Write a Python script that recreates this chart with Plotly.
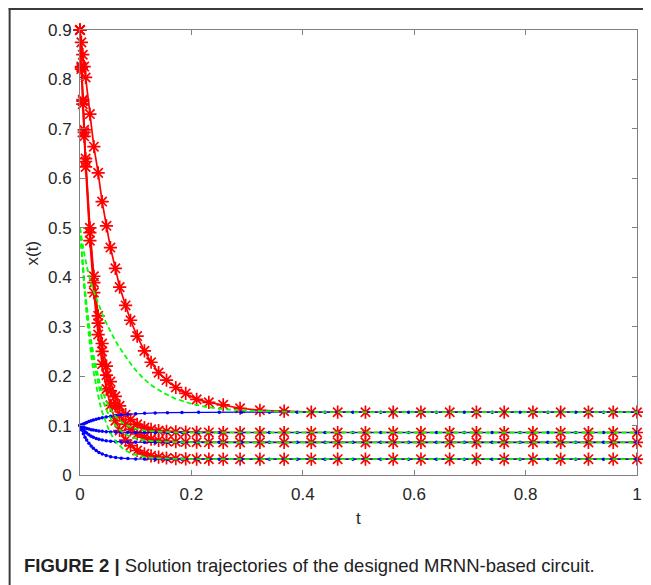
import plotly.graph_objects as go

# ---- data ----
# red (x(0)=0.9), solver output times
t_red = [0, 0.0025, 0.005, 0.0075, 0.0101, 0.0178, 0.0249, 0.0326, 0.0397, 0.0475,
         0.0546, 0.0635, 0.0712, 0.0819, 0.0907, 0.1026, 0.1157, 0.1276, 0.1411, 0.1553,
         0.172, 0.1898, 0.2094, 0.2313, 0.2571, 0.2874, 0.3230, 0.3665, 0.4152, 0.4626,
         0.5125, 0.5623, 0.6121, 0.6637, 0.7117, 0.7616, 0.8132, 0.8630, 0.9128, 0.9573, 1.0]
red_x1 = [0.9, 0.875, 0.85, 0.826, 0.804, 0.73, 0.664, 0.611, 0.553, 0.504,
          0.46, 0.418, 0.38, 0.343, 0.313, 0.281, 0.251, 0.228, 0.207, 0.192,
          0.177, 0.165, 0.153, 0.147, 0.142, 0.135, 0.131, 0.129, 0.127, 0.127,
          0.127, 0.127, 0.127, 0.127, 0.127, 0.127, 0.127, 0.127, 0.127, 0.127, 0.127]
red_x2 = [0.9, 0.826, 0.759, 0.698, 0.640, 0.500, 0.402, 0.322, 0.266, 0.220,
          0.189, 0.159, 0.140, 0.122, 0.112, 0.1025, 0.096, 0.0924, 0.0898, 0.0882,
          0.0872, 0.0866, 0.0863, 0.0861, 0.086, 0.086, 0.086, 0.086, 0.086, 0.086,
          0.086, 0.086, 0.086, 0.086, 0.086, 0.086, 0.086, 0.086, 0.086, 0.086, 0.086]
red_x3 = [0.9, 0.824, 0.756, 0.693, 0.634, 0.490, 0.389, 0.307, 0.250, 0.202,
          0.170, 0.140, 0.121, 0.103, 0.0925, 0.083, 0.0763, 0.0725, 0.0699, 0.0683,
          0.0672, 0.0666, 0.0663, 0.0661, 0.066, 0.066, 0.066, 0.066, 0.066, 0.066,
          0.066, 0.066, 0.066, 0.066, 0.066, 0.066, 0.066, 0.066, 0.066, 0.066, 0.066]
red_x4 = [0.9, 0.821, 0.750, 0.685, 0.623, 0.474, 0.369, 0.284, 0.224, 0.174,
          0.141, 0.110, 0.090, 0.0706, 0.0596, 0.0496, 0.0427, 0.0388, 0.0361, 0.0344,
          0.0333, 0.0326, 0.0323, 0.0321, 0.032, 0.032, 0.032, 0.032, 0.032, 0.032,
          0.032, 0.032, 0.032, 0.032, 0.032, 0.032, 0.032, 0.032, 0.032, 0.032, 0.032]

# blue (x(0)=0.1)
t_blue = [0, 0.003, 0.006, 0.009, 0.012, 0.016, 0.020, 0.024, 0.029, 0.034,
          0.040, 0.047, 0.055, 0.064, 0.074, 0.086, 0.100, 0.116, 0.135, 0.157,
          0.183, 0.213, 0.25, 0.29, 0.34, 0.39, 0.44, 0.49, 0.54, 0.59,
          0.64, 0.69, 0.74, 0.79, 0.84, 0.89, 0.94, 1.0]
blue_x1 = [0.1, 0.1017, 0.1033, 0.1049, 0.1063, 0.1080, 0.1096, 0.1111, 0.1127, 0.1142,
           0.1158, 0.1174, 0.1190, 0.1204, 0.1217, 0.1229, 0.1240, 0.1249, 0.1256, 0.1261,
           0.1265, 0.1268, 0.1269, 0.127, 0.127, 0.127, 0.127, 0.127, 0.127, 0.127,
           0.127, 0.127, 0.127, 0.127, 0.127, 0.127, 0.127, 0.127]
blue_x2 = [0.1, 0.0982, 0.0967, 0.0953, 0.0942, 0.0928, 0.0917, 0.0908, 0.0898, 0.0890,
           0.0883, 0.0877, 0.0872, 0.0868, 0.0865, 0.0863, 0.0862, 0.0861, 0.086, 0.086,
           0.086, 0.086, 0.086, 0.086, 0.086, 0.086, 0.086, 0.086, 0.086, 0.086,
           0.086, 0.086, 0.086, 0.086, 0.086, 0.086, 0.086, 0.086]
blue_x3 = [0.1, 0.0953, 0.0912, 0.0877, 0.0847, 0.0813, 0.0785, 0.0762, 0.0740, 0.0722,
           0.0706, 0.0692, 0.0682, 0.0674, 0.0669, 0.0665, 0.0662, 0.0661, 0.066, 0.066,
           0.066, 0.066, 0.066, 0.066, 0.066, 0.066, 0.066, 0.066, 0.066, 0.066,
           0.066, 0.066, 0.066, 0.066, 0.066, 0.066, 0.066, 0.066]
blue_x4 = [0.1, 0.0910, 0.0833, 0.0765, 0.0707, 0.0640, 0.0586, 0.0540, 0.0494, 0.0457,
           0.0424, 0.0395, 0.0371, 0.0353, 0.0341, 0.0332, 0.0326, 0.0323, 0.0321, 0.032,
           0.032, 0.032, 0.032, 0.032, 0.032, 0.032, 0.032, 0.032, 0.032, 0.032,
           0.032, 0.032, 0.032, 0.032, 0.032, 0.032, 0.032, 0.032]

# green dashed (x(0)=0.5)
t_green = [0, 0.004, 0.008, 0.012, 0.016, 0.02, 0.025, 0.03, 0.035, 0.04,
           0.046, 0.052, 0.06, 0.068, 0.077, 0.087, 0.1, 0.115, 0.13, 0.15,
           0.17, 0.2, 0.23, 0.26, 0.3, 0.35, 0.4, 0.5, 0.6, 0.7, 0.8, 0.9, 1.0]
green_x1 = [0.5, 0.47, 0.445, 0.423, 0.404, 0.388, 0.370, 0.354, 0.339, 0.326,
            0.310, 0.296, 0.279, 0.263, 0.247, 0.231, 0.212, 0.194, 0.180, 0.166,
            0.155, 0.144, 0.137, 0.133, 0.130, 0.128, 0.127, 0.127, 0.127, 0.127,
            0.127, 0.127, 0.127]
green_x2 = [0.5, 0.4387, 0.3866, 0.3423, 0.3042, 0.2719, 0.2384, 0.2106, 0.1883, 0.1696,
            0.1518, 0.1378, 0.1235, 0.1132, 0.1050, 0.0988, 0.0936, 0.0901, 0.0883, 0.0870,
            0.0865, 0.0861, 0.086, 0.086, 0.086, 0.086, 0.086, 0.086, 0.086, 0.086,
            0.086, 0.086, 0.086]
green_x3 = [0.5, 0.4358, 0.3811, 0.3346, 0.2947, 0.2609, 0.2257, 0.1966, 0.1732, 0.1537,
            0.1350, 0.1203, 0.1054, 0.0946, 0.0860, 0.0794, 0.0739, 0.0703, 0.0684, 0.0671,
            0.0665, 0.0661, 0.066, 0.066, 0.066, 0.066, 0.066, 0.066, 0.066, 0.066,
            0.066, 0.066, 0.066]
green_x4 = [0.5, 0.4307, 0.3718, 0.3217, 0.2786, 0.2421, 0.2042, 0.1729, 0.1476, 0.1265,
            0.1064, 0.0905, 0.0744, 0.0628, 0.0535, 0.0464, 0.0406, 0.0367, 0.0346, 0.0332,
            0.0325, 0.0321, 0.032, 0.032, 0.032, 0.032, 0.032, 0.032, 0.032, 0.032,
            0.032, 0.032, 0.032]

x_ticks = [0, 0.2, 0.4, 0.6, 0.8, 1]
x_ticklabels = ["0", "0.2", "0.4", "0.6", "0.8", "1"]
y_ticks = [0, 0.1, 0.2, 0.3, 0.4, 0.5, 0.6, 0.7, 0.8, 0.9]
y_ticklabels = ["0", "0.1", "0.2", "0.3", "0.4", "0.5", "0.6", "0.7", "0.8", "0.9"]

FONT = "Liberation Sans, Arial, Helvetica, sans-serif"

fig = go.Figure()

for ys in [red_x1, red_x2, red_x3, red_x4]:
    fig.add_trace(go.Scatter(
        x=t_red, y=ys, mode="lines+markers", cliponaxis=False,
        line=dict(color="#FF0000", width=1.7),
        marker=dict(symbol="asterisk-open", size=11, color="#FF0000",
                    line=dict(color="#FF0000", width=1.7)),
        showlegend=False, hoverinfo="skip"))

for ys in [blue_x1, blue_x2, blue_x3, blue_x4]:
    fig.add_trace(go.Scatter(
        x=t_blue, y=ys, mode="lines+markers", cliponaxis=False,
        line=dict(color="#0000FF", width=1.2),
        marker=dict(symbol="circle", size=3.5, color="#0000FF"),
        showlegend=False, hoverinfo="skip"))

for ys in [green_x1, green_x2, green_x3, green_x4]:
    fig.add_trace(go.Scatter(
        x=t_green, y=ys, mode="lines", cliponaxis=False,
        line=dict(color="#00FF00", width=1.8, dash="5px,3px"),
        showlegend=False, hoverinfo="skip"))

axis_common = dict(
    showline=True, linecolor="#808080", linewidth=1, mirror="ticks",
    ticks="inside", ticklen=5, tickcolor="#808080", tickwidth=1,
    showgrid=False, zeroline=False,
    tickfont=dict(family=FONT, size=17, color="#262626"),
)

fig.update_xaxes(range=[0, 1], tickvals=x_ticks, ticktext=x_ticklabels, ticklabelstandoff=4,
                 **axis_common)
fig.update_yaxes(range=[0, 0.9], tickvals=y_ticks, ticktext=y_ticklabels, ticklabelstandoff=4,
                 **axis_common)

# The page body adds an 8px offset; the figure occupies page px 8..651 x 8..585.
OFF = 8
W, H = 651 - OFF, 585 - OFF
# plot area in page px: x 80..642, y 30..475
L, R, T, B = 80, 642, 30, 475


def px(x):
    return (x - L) / (R - L)


def py(y):
    return (B - y) / (B - T)


fig.update_layout(
    width=W, height=H,
    margin=dict(l=L - OFF, r=651 - R, t=T - OFF, b=585 - B),
    paper_bgcolor="white", plot_bgcolor="white",
    font=dict(family=FONT, color="#262626"),
    shapes=[
        dict(type="line", xref="paper", yref="paper",
             x0=px(8), x1=px(651), y0=py(9), y1=py(9),
             line=dict(color="#3a3a3a", width=2)),
        dict(type="line", xref="paper", yref="paper",
             x0=px(9), x1=px(9), y0=py(8), y1=py(585),
             line=dict(color="#3a3a3a", width=2)),
    ],
    annotations=[
        dict(text="x(t)", xref="paper", yref="paper", x=px(33), y=py(253),
             showarrow=False, textangle=-90, xanchor="center", yanchor="middle",
             font=dict(family=FONT, size=17, color="#262626")),
        dict(text="t", xref="paper", yref="paper", x=px(361), y=py(518),
             showarrow=False, xanchor="center", yanchor="middle",
             font=dict(family=FONT, size=17, color="#262626")),
        dict(text="<b>FIGURE 2 |</b> Solution trajectories of the designed MRNN-based circuit.",
             xref="paper", yref="paper", x=px(21), y=py(565),
             showarrow=False, xanchor="left", yanchor="middle",
             font=dict(family=FONT, size=18.5, color="#222222")),
    ],
)

fig.write_html("out.html")
